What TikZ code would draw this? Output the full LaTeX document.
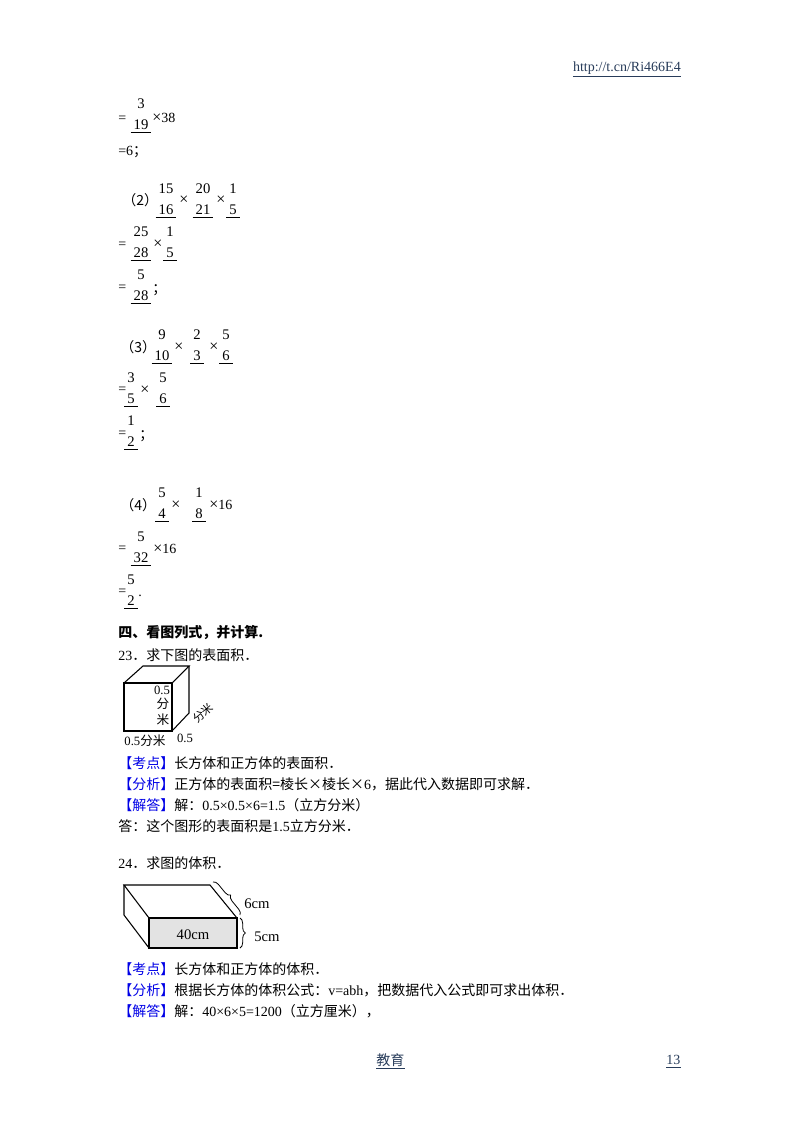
\documentclass[tikz,border=0pt]{standalone}
\usepackage{fontspec}
\setmainfont{Liberation Serif}
\newfontfamily\cjk{Noto Sans CJK SC}
\usetikzlibrary{decorations.pathreplacing}
\definecolor{kblue}{RGB}{0,0,230}
\definecolor{link}{RGB}{40,60,90}
\begin{document}
\begin{tikzpicture}[x=0.75pt,y=-0.75pt,
  t/.style={anchor=west,inner sep=0pt,font=\fontsize{10.5}{12}\selectfont},
  n/.style={inner sep=0pt,font=\fontsize{11}{12}\selectfont},
  fig/.style={inner sep=0pt,font=\fontsize{9.5}{11}\selectfont}]
\useasboundingbox (0,0) rectangle (800,1132);
\newcommand{\fr}[4]{% x, ynum, num, den
  \node[n] at (#1,#2) {#3};
  \node[n] (d) at (#1,#2+21) {#4};
  \draw[line width=0.6pt] ([shift={(-2pt,-1.5pt)}]d.south west) -- ([shift={(2pt,-1.5pt)}]d.south east);}
\newcommand{\ul}[1]{\draw[link,line width=0.5pt] ([yshift=-1.5pt]#1.south west) -- ([yshift=-1.5pt]#1.south east);}
\newcommand{\tm}{{\fontsize{12}{12}\selectfont ×}}
\node[t,link,anchor=east] (url) at (681,68) {http://t.cn/Ri466E4};
\ul{url}
% (1) end
\node[t] at (118,119) {=};
\fr{141}{104}{3}{19}
\node[t] at (152,118) {\tm 38};
\node[t] at (118,152) {=6{\cjk ；}};
% (2)
\node[t] at (122,200) {\cjk （2）};
\fr{166}{189}{15}{16}\node[t] at (179,200) {\tm};
\fr{203}{189}{20}{21}\node[t] at (216,200) {\tm};
\fr{233}{189}{1}{5}
\node[t] at (118,245) {=};
\fr{141}{232}{25}{28}\node[t] at (153,244) {\tm};
\fr{170}{232}{1}{5}
\node[t] at (118,288) {=};
\fr{141}{275}{5}{28}\node[t] at (152,290) {\cjk ；};
% (3)
\node[t] at (120,347) {\cjk （3）};
\fr{162}{335}{9}{10}\node[t] at (174,347) {\tm};
\fr{197}{335}{2}{3}\node[t] at (209,347) {\tm};
\fr{226}{335}{5}{6}
\node[t] at (118,390) {=};
\fr{131}{378}{3}{5}\node[t] at (140,390) {\tm};
\fr{163}{378}{5}{6}
\node[t] at (118,434) {=};
\fr{131}{421}{1}{2}\node[t] at (139,436) {\cjk ；};
% (4)
\node[t] at (120,505) {\cjk （4）};
\fr{162}{493}{5}{4}\node[t] at (171,505) {\tm};
\fr{199}{493}{1}{8}\node[t] at (209,505) {\tm 16};
\node[t] at (118,549) {=};
\fr{141}{537}{5}{32}\node[t] at (153,549) {\tm 16};
\node[t] at (118,592) {=};
\fr{131}{580}{5}{2}\node[t] at (138,596) {.};
% section
\node[t] at (118,633) {\cjk\bfseries 四、看图列式，并计算.};
\node[t] at (118,655) {23{\cjk ．求下图的表面积．}};
% cube
\draw[line width=0.8pt] (124,683) rectangle (172,731);
\draw[line width=0.8pt] (124,683) -- (143,666) -- (189,666) -- (172,683);
\draw[line width=0.8pt] (189,666) -- (189,713) -- (172,731);
\node[fig] at (162,690) {0.5};
\node[fig] at (163,704) {\cjk 分};
\node[fig] at (163,720) {\cjk 米};
\node[fig] at (145,741) {0.5\cjk 分米};
\node[fig] at (185,738) {0.5};
\node[fig,rotate=40,font=\fontsize{8.5}{10}\selectfont] at (203,713) {\cjk 分米};
\node[t] at (118,763) {{\cjk\color{kblue}【考点】}{\cjk 长方体和正方体的表面积．}};
\node[t] at (118,784) {{\cjk\color{kblue}【分析】}{\cjk 正方体的表面积=棱长×棱长×}6{\cjk ，据此代入数据即可求解．}};
\node[t] at (118,805) {{\cjk\color{kblue}【解答】}{\cjk 解：}0.5×0.5×6=1.5{\cjk （立方分米）}};
\node[t] at (118,826) {{\cjk 答：这个图形的表面积是}1.5{\cjk 立方分米．}};
\node[t] at (118,863) {24{\cjk ．求图的体积．}};
% box
\draw[line width=0.8pt,fill=gray!22] (149,918) rectangle (237,948);
\draw[line width=0.8pt] (149,918) -- (124,885) -- (210,885) -- (237,918);
\draw[line width=0.8pt] (124,885) -- (124,915) -- (149,948);
\draw[line width=0.6pt,decorate,decoration={brace,amplitude=4pt}] (213,882) -- (240,915);
\draw[line width=0.6pt,decorate,decoration={brace,amplitude=4pt}] (240,918) -- (240,948);
\node[fig,font=\fontsize{11}{12}\selectfont] at (193,935) {40cm};
\node[fig,font=\fontsize{11}{12}\selectfont] at (257,904) {6cm};
\node[fig,font=\fontsize{11}{12}\selectfont] at (267,937) {5cm};
\node[t] at (118,969) {{\cjk\color{kblue}【考点】}{\cjk 长方体和正方体的体积．}};
\node[t] at (118,990) {{\cjk\color{kblue}【分析】}{\cjk 根据长方体的体积公式：}v=abh{\cjk ，把数据代入公式即可求出体积．}};
\node[t] at (118,1011) {{\cjk\color{kblue}【解答】}{\cjk 解：}40×6×5=1200{\cjk （立方厘米），}};
% footer
\node[t,link] (f1) at (376,1060) {\cjk 教育};
\ul{f1}
\node[t,link] (f2) at (666,1060) {13};
\ul{f2}
\end{tikzpicture}
\end{document}
